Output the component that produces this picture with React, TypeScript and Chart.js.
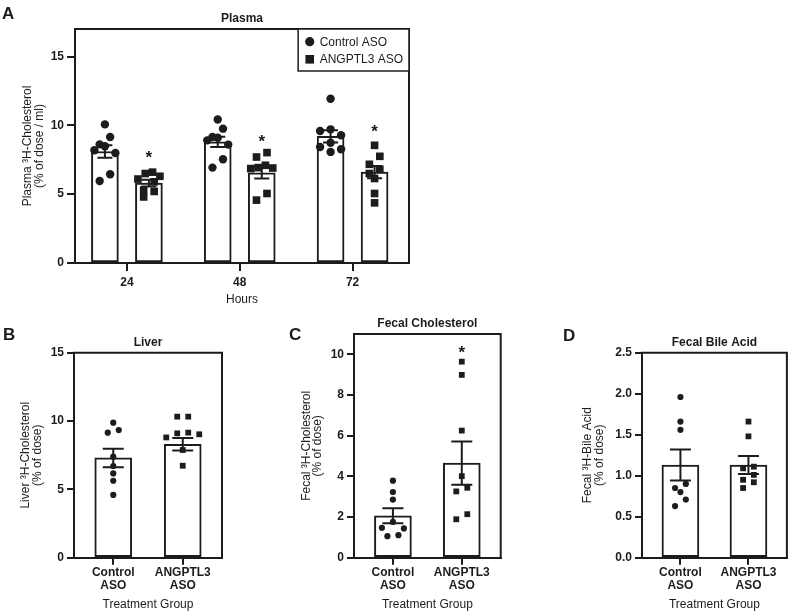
import React, { useEffect, useRef } from 'react';
import { Chart, registerables } from 'chart.js';

Chart.register(...registerables);

const FONT = "'Liberation Sans', Arial, Helvetica, sans-serif";
const INK = '#1c1c1c';
const PAGE_W = 791;
const PAGE_H = 614;
const TITLE_H = 12 * 1.2 + 3;

Chart.defaults.font.family = FONT;
Chart.defaults.color = INK;

// ---------------- data ----------------
const hourLabels = ['24', '48', '72'];
const groupTickLabels = [['Control', 'ASO'], ['ANGPTL3', 'ASO']];
const treatmentNames = ['Control ASO', 'ANGPTL3 ASO'];

// Panel A – Plasma
const plasmaControlMean = [8.1, 8.8, 9.2];
const plasmaControlSem = [0.46, 0.37, 0.45];
const plasmaAngptl3Mean = [5.8, 6.55, 6.6];
const plasmaAngptl3Sem = [0.24, 0.42, 0.45];
const plasmaControlPoints = [
  [10.07, 9.15, 8.62, 8.48, 8.19, 7.99, 6.45, 5.96],
  [10.43, 9.76, 9.15, 9.1, 8.91, 8.6, 7.54, 6.93],
  [11.93, 9.71, 9.59, 9.28, 8.74, 8.43, 8.26, 8.07],
];
const plasmaAngptl3Points = [
  [6.6, 6.5, 6.3, 6.1, 5.9, 5.3, 5.2, 4.8],
  [8.02, 7.7, 7.1, 6.93, 6.9, 6.86, 5.05, 4.57],
  [8.55, 7.75, 7.17, 6.81, 6.5, 6.14, 5.05, 4.37],
];
const plasmaStars = [7.95, 9.15, 9.88];
const plasmaYTicks = [0, 5, 10, 15];

// Panel B – Liver
const liverMean = [7.3, 8.3];
const liverSem = [0.68, 0.45];
const liverControlPoints = [9.88, 9.34, 9.15, 7.39, 6.71, 6.17, 5.63, 4.59];
const liverAngptl3Points = [10.32, 10.32, 9.15, 9.1, 9.03, 8.8, 7.88, 6.73];
const liverYTicks = [0, 5, 10, 15];

// Panel C – Fecal Cholesterol
const fecalCholMean = [2.06, 4.65];
const fecalCholSem = [0.37, 1.06];
const fecalCholControlPoints = [3.79, 3.23, 2.86, 1.76, 1.47, 1.44, 1.11, 1.06];
const fecalCholAngptl3Points = [9.64, 8.99, 6.25, 4.01, 3.44, 3.26, 2.14, 1.89];
const fecalCholStars: (number | null)[] = [null, 10.32];
const fecalCholYTicks = [0, 2, 4, 6, 8, 10];

// Panel D – Fecal Bile Acid
const bileMean = [1.13, 1.13];
const bileSem = [0.19, 0.11];
const bileControlPoints = [1.96, 1.66, 1.56, 0.9, 0.85, 0.8, 0.71, 0.63];
const bileAngptl3Points = [1.66, 1.48, 1.11, 1.09, 1.01, 0.95, 0.92, 0.85];
const bileYTicks = [0, 0.5, 1, 1.5, 2, 2.5];
const bileYTickLabels = ['0.0', '0.5', '1.0', '1.5', '2.0', '2.5'];

// ---------------- layout / types ----------------
type Treatment = {
  label: string;
  style: 'circle' | 'rect';
  cats: number[];
  shift: number;
  mean: number[];
  sem: number[];
  points: number[][];
  stars?: (number | null)[];
};

type Panel = {
  letter: string;
  letterX: number;
  letterY: number;
  title: string;
  yTitle: string[];
  xTitle: string;
  area: { left: number; top: number; right: number; bottom: number };
  yWidth: number;
  xHeight: number;
  xMin: number;
  xMax: number;
  yMax: number;
  yTicks: number[];
  yTickLabels: string[];
  xTickLabels: (string | string[])[];
  tickLength: number;
  yTickPadding: number;
  xTickPadding: number;
  xTickLineHeight: number;
  barWidth: number;
  capHalf: number;
  circleRadius: number;
  rectRadius: number;
  swarmStep: number;
  swarmRowGap: number;
  swarmMaxSpread: number;
  legend: boolean;
  treatments: Treatment[];
};

const smallPanel = {
  yWidth: 54,
  xHeight: 54.5,
  xMin: -0.565,
  xMax: 1.565,
  xTickLabels: groupTickLabels,
  tickLength: 7,
  yTickPadding: 3,
  xTickPadding: 1,
  xTickLineHeight: 1.11,
  barWidth: 37,
  capHalf: 10.5,
  circleRadius: 3.1,
  rectRadius: 4.1,
  swarmStep: 11,
  swarmRowGap: 7,
  swarmMaxSpread: 33,
  legend: false,
  xTitle: 'Treatment Group',
};

const panels: Panel[] = [
  {
    letter: 'A', letterX: 2, letterY: 18.5,
    title: 'Plasma',
    yTitle: ['Plasma ³H-Cholesterol', '(% of dose / ml)'],
    xTitle: 'Hours',
    area: { left: 75, top: 29, right: 409, bottom: 263 },
    yWidth: 53, xHeight: 44,
    xMin: -0.46, xMax: 2.5, yMax: 17,
    yTicks: plasmaYTicks, yTickLabels: plasmaYTicks.map(String),
    xTickLabels: hourLabels,
    tickLength: 8, yTickPadding: 3, xTickPadding: 4, xTickLineHeight: 1.2,
    barWidth: 27, capHalf: 7.5, circleRadius: 4.2, rectRadius: 5.4,
    swarmStep: 10.5, swarmRowGap: 8.5, swarmMaxSpread: 22,
    legend: true,
    treatments: [
      { label: treatmentNames[0], style: 'circle', cats: [0, 1, 2], shift: -0.195, mean: plasmaControlMean, sem: plasmaControlSem, points: plasmaControlPoints },
      { label: treatmentNames[1], style: 'rect', cats: [0, 1, 2], shift: 0.195, mean: plasmaAngptl3Mean, sem: plasmaAngptl3Sem, points: plasmaAngptl3Points, stars: plasmaStars },
    ],
  },
  {
    ...smallPanel,
    letter: 'B', letterX: 3, letterY: 340,
    title: 'Liver',
    yTitle: ['Liver ³H-Cholesterol', '(% of dose)'],
    area: { left: 74, top: 352.7, right: 222, bottom: 557.7 },
    yWidth: 53.8,
    yMax: 15, yTicks: liverYTicks, yTickLabels: liverYTicks.map(String),
    treatments: [
      { label: treatmentNames[0], style: 'circle', cats: [0], shift: 0, mean: [liverMean[0]], sem: [liverSem[0]], points: [liverControlPoints] },
      { label: treatmentNames[1], style: 'rect', cats: [1], shift: 0, mean: [liverMean[1]], sem: [liverSem[1]], points: [liverAngptl3Points] },
    ],
  },
  {
    ...smallPanel,
    letter: 'C', letterX: 289, letterY: 339.5,
    title: 'Fecal Cholesterol',
    yTitle: ['Fecal ³H-Cholesterol', '(% of dose)'],
    area: { left: 354, top: 334, right: 500.7, bottom: 557.7 },
    yWidth: 53.1,
    yMax: 11, yTicks: fecalCholYTicks, yTickLabels: fecalCholYTicks.map(String),
    treatments: [
      { label: treatmentNames[0], style: 'circle', cats: [0], shift: 0, mean: [fecalCholMean[0]], sem: [fecalCholSem[0]], points: [fecalCholControlPoints], stars: [fecalCholStars[0]] },
      { label: treatmentNames[1], style: 'rect', cats: [1], shift: 0, mean: [fecalCholMean[1]], sem: [fecalCholSem[1]], points: [fecalCholAngptl3Points], stars: [fecalCholStars[1]] },
    ],
  },
  {
    ...smallPanel,
    letter: 'D', letterX: 563, letterY: 341,
    title: 'Fecal Bile Acid',
    yTitle: ['Fecal ³H-Bile Acid', '(% of dose)'],
    area: { left: 642, top: 352.7, right: 790, bottom: 557.7 },
    yWidth: 59.8,
    yMax: 2.5, yTicks: bileYTicks, yTickLabels: bileYTickLabels,
    treatments: [
      { label: treatmentNames[0], style: 'circle', cats: [0], shift: 0, mean: [bileMean[0]], sem: [bileSem[0]], points: [bileControlPoints] },
      { label: treatmentNames[1], style: 'rect', cats: [1], shift: 0, mean: [bileMean[1]], sem: [bileSem[1]], points: [bileAngptl3Points] },
    ],
  },
];

// Prism-like column scatter: points closer than rowGap px form a row, spread symmetrically
function swarmOffsets(values: number[], pxPerY: number, rowGap: number, step: number, maxSpread: number): number[] {
  const order = values.map((_, i) => i).sort((a, b) => values[b] - values[a]);
  const out: number[] = values.map(() => 0);
  let k = 0;
  while (k < order.length) {
    const top = values[order[k]];
    const row = [order[k]];
    let j = k + 1;
    while (j < order.length && (top - values[order[j]]) * pxPerY < rowGap) {
      row.push(order[j]);
      j++;
    }
    const n = row.length;
    const s = n > 1 ? Math.min(step, maxSpread / (n - 1)) : step;
    const slots: number[] = [];
    if (n % 2 === 1) {
      slots.push(0);
      for (let m = 1; slots.length < n; m++) slots.push(-m, m);
    } else {
      for (let m = 0; slots.length < n; m++) slots.push(m + 0.5, -(m + 0.5));
    }
    row.forEach((id, r) => {
      out[id] = slots[r] * s;
    });
    k = j;
  }
  return out;
}

function makeDecor(p: Panel) {
  return {
    id: 'panelDecor',
    beforeDatasetsDraw(chart: any) {
      const { ctx, chartArea: a } = chart;
      ctx.save();
      ctx.strokeStyle = INK;
      ctx.lineWidth = 2;
      ctx.lineCap = 'square';
      ctx.beginPath();
      ctx.moveTo(a.left, a.top);
      ctx.lineTo(a.right, a.top);
      ctx.lineTo(a.right, a.bottom);
      ctx.stroke();
      ctx.restore();
    },
    afterDatasetDraw(chart: any, args: any) {
      if (args.meta.type !== 'bar') return;
      const t = p.treatments[args.index];
      if (!t) return;
      const { ctx } = chart;
      const yScale = chart.scales.y;
      ctx.save();
      ctx.strokeStyle = INK;
      ctx.lineWidth = 2;
      args.meta.data.forEach((el: any, i: number) => {
        const x = el.x;
        const yt = yScale.getPixelForValue(t.mean[i] + t.sem[i]);
        const yb = yScale.getPixelForValue(t.mean[i] - t.sem[i]);
        ctx.beginPath();
        ctx.moveTo(x, yt);
        ctx.lineTo(x, yb);
        ctx.moveTo(x - p.capHalf, yt);
        ctx.lineTo(x + p.capHalf, yt);
        ctx.moveTo(x - p.capHalf, yb);
        ctx.lineTo(x + p.capHalf, yb);
        ctx.stroke();
      });
      ctx.restore();
    },
    afterDatasetsDraw(chart: any) {
      const { ctx } = chart;
      const xs = chart.scales.x;
      const ys = chart.scales.y;
      const size = 17;
      ctx.save();
      ctx.fillStyle = INK;
      ctx.font = `bold ${size}px ${FONT}`;
      ctx.textAlign = 'center';
      ctx.textBaseline = 'alphabetic';
      p.treatments.forEach((t) => {
        (t.stars || []).forEach((v, j) => {
          if (v === null || v === undefined) return;
          const x = xs.getPixelForValue(t.cats[j] + t.shift);
          const y = ys.getPixelForValue(v) + size * 0.58;
          ctx.fillText('*', x, y);
        });
      });
      ctx.restore();
    },
    afterDraw(chart: any) {
      const { ctx } = chart;
      ctx.save();
      ctx.fillStyle = INK;
      ctx.font = `bold 17px ${FONT}`;
      ctx.textAlign = 'left';
      ctx.textBaseline = 'alphabetic';
      ctx.fillText(p.letter, p.letterX, p.letterY);
      if (p.legend) {
        const items = chart.data.datasets.filter((d: any) => d.type === 'scatter');
        ctx.font = `12px ${FONT}`;
        const textW = Math.max(...items.map((d: any) => ctx.measureText(d.label).width));
        const a = chart.chartArea;
        const boxW = 21.5 + textW + 6;
        const boxH = 42;
        const left = a.right - boxW;
        const top = a.top;
        ctx.fillStyle = '#ffffff';
        ctx.fillRect(left, top, boxW, boxH);
        ctx.strokeStyle = INK;
        ctx.lineWidth = 1.5;
        ctx.strokeRect(left, top, boxW, boxH);
        items.forEach((d: any, i: number) => {
          const cy = top + 12.7 + i * 17.6;
          const cx = left + 11.6;
          ctx.fillStyle = INK;
          if (d.pointStyle === 'circle') {
            ctx.beginPath();
            ctx.arc(cx, cy, 4.6, 0, Math.PI * 2);
            ctx.fill();
          } else {
            ctx.fillRect(cx - 4.3, cy - 4.3, 8.6, 8.6);
          }
          ctx.textAlign = 'left';
          ctx.textBaseline = 'middle';
          ctx.fillText(d.label, left + 21.5, cy + 0.5);
        });
      }
      ctx.restore();
    },
  };
}

function buildConfig(p: Panel): any {
  const plotW = p.area.right - p.area.left;
  const plotH = p.area.bottom - p.area.top;
  const pxPerX = plotW / (p.xMax - p.xMin);
  const pxPerY = plotH / p.yMax;

  const barSets = p.treatments.map((t) => ({
    type: 'bar',
    label: t.label,
    data: t.mean.map((m, j) => ({ x: t.cats[j] + t.shift, y: m })),
    backgroundColor: '#ffffff',
    borderColor: INK,
    borderWidth: 2,
    borderSkipped: false,
    barThickness: p.barWidth,
    grouped: false,
    order: 2,
  }));

  const pointSets = p.treatments.map((t) => {
    const data: { x: number; y: number }[] = [];
    t.points.forEach((vals, j) => {
      const offs = swarmOffsets(vals, pxPerY, p.swarmRowGap, p.swarmStep, p.swarmMaxSpread);
      vals.forEach((v, k) => data.push({ x: t.cats[j] + t.shift + offs[k] / pxPerX, y: v }));
    });
    return {
      type: 'scatter',
      label: t.label,
      data,
      pointStyle: t.style,
      pointRadius: t.style === 'circle' ? p.circleRadius : p.rectRadius,
      pointHoverRadius: 0,
      pointBackgroundColor: INK,
      pointBorderWidth: 0,
      backgroundColor: INK,
      borderColor: INK,
      borderWidth: 0,
      clip: false,
      order: 1,
    };
  });

  const tickFont = { family: FONT, size: 12, weight: 'bold' as const };

  return {
    type: 'bar',
    data: { datasets: [...barSets, ...pointSets] },
    options: {
      responsive: false,
      animation: false,
      events: [],
      devicePixelRatio: 1,
      layout: {
        padding: {
          left: p.area.left - p.yWidth,
          top: p.area.top - TITLE_H,
          right: PAGE_W - p.area.right,
          bottom: PAGE_H - p.area.bottom - p.xHeight,
        },
      },
      plugins: {
        legend: { display: false },
        tooltip: { enabled: false },
        title: {
          display: true,
          text: p.title,
          fullSize: false,
          color: INK,
          font: { family: FONT, size: 12, weight: 'bold', lineHeight: 1.2 },
          padding: { top: 0, bottom: 3 },
        },
      },
      scales: {
        x: {
          type: 'linear',
          min: p.xMin,
          max: p.xMax,
          offset: false,
          afterBuildTicks: (s: any) => {
            s.ticks = p.xTickLabels.map((_, i) => ({ value: i }));
          },
          afterFit: (s: any) => {
            s.height = p.xHeight;
          },
          ticks: {
            autoSkip: false,
            maxRotation: 0,
            minRotation: 0,
            padding: p.xTickPadding,
            color: INK,
            font: { ...tickFont, lineHeight: p.xTickLineHeight },
            callback: (_v: any, i: number) => p.xTickLabels[i],
          },
          grid: {
            display: true,
            offset: false,
            drawOnChartArea: false,
            drawTicks: true,
            tickLength: p.tickLength,
            color: INK,
            lineWidth: 2,
          },
          border: { display: true, color: INK, width: 2 },
          title: {
            display: true,
            text: p.xTitle,
            color: INK,
            font: { family: FONT, size: 12, lineHeight: 1.2 },
            padding: 0,
          },
        },
        y: {
          type: 'linear',
          min: 0,
          max: p.yMax,
          afterBuildTicks: (s: any) => {
            s.ticks = p.yTicks.map((v) => ({ value: v }));
          },
          afterFit: (s: any) => {
            s.width = p.yWidth;
          },
          ticks: {
            padding: p.yTickPadding,
            color: INK,
            font: { ...tickFont, lineHeight: 1.2 },
            callback: (_v: any, i: number) => p.yTickLabels[i],
          },
          grid: {
            display: true,
            drawOnChartArea: false,
            drawTicks: true,
            tickLength: p.tickLength,
            color: INK,
            lineWidth: 2,
          },
          border: { display: true, color: INK, width: 2 },
          title: {
            display: true,
            text: p.yTitle,
            color: INK,
            font: { family: FONT, size: 12, lineHeight: 0.96 },
            padding: 0,
          },
        },
      },
    },
    plugins: [makeDecor(p)],
  };
}

export default function App() {
  const canvases = useRef<(HTMLCanvasElement | null)[]>([]);

  useEffect(() => {
    const charts = panels.map((p, i) => new Chart(canvases.current[i] as HTMLCanvasElement, buildConfig(p)));
    return () => {
      charts.forEach((c) => c.destroy());
    };
  }, []);

  return (
    <div
      style={{
        position: 'absolute',
        left: 0,
        top: 0,
        width: PAGE_W,
        height: PAGE_H,
        background: '#ffffff',
        overflow: 'hidden',
      }}
    >
      {panels.map((p, i) => (
        <canvas
          key={p.letter}
          ref={(el) => {
            canvases.current[i] = el;
          }}
          width={PAGE_W}
          height={PAGE_H}
          style={{ position: 'absolute', left: 0, top: 0, width: PAGE_W, height: PAGE_H }}
        />
      ))}
    </div>
  );
}
